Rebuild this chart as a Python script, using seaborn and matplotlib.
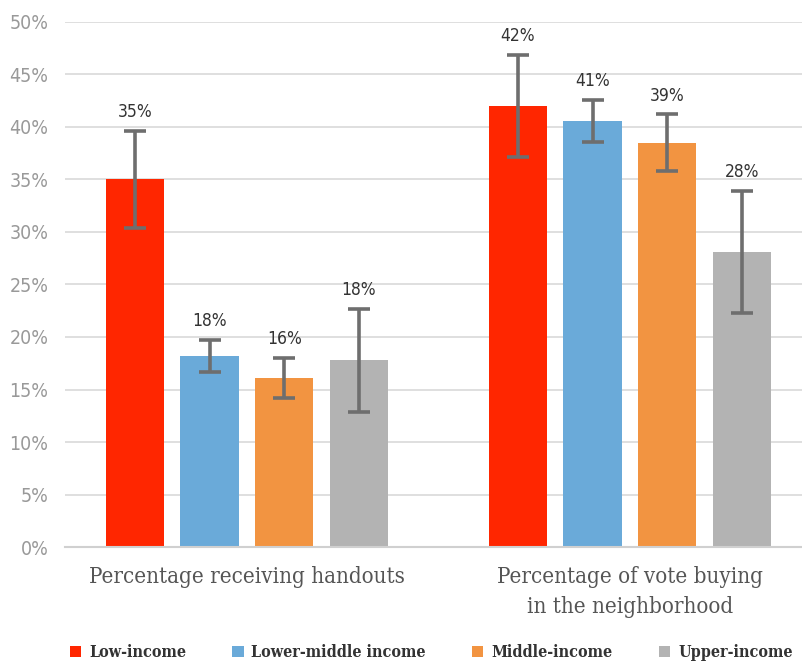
import matplotlib
matplotlib.use("Agg")
import matplotlib.pyplot as plt
import seaborn as sns
import pandas as pd
import numpy as np
from matplotlib.patches import Patch

categories = ["Percentage receiving handouts", "Percentage of vote buying\nin the neighborhood"]
groups = ["Low-income", "Lower-middle income", "Middle-income", "Upper-income"]
handouts = [35.0, 18.2, 16.1, 17.8]
handouts_err = [4.6, 1.5, 1.9, 4.9]
vote_buying = [42.0, 40.6, 38.5, 28.1]
vote_buying_err = [4.9, 2.0, 2.7, 5.85]
labels_handouts = ["35%", "18%", "16%", "18%"]
labels_vote = ["42%", "41%", "39%", "28%"]
yticks = [0, 5, 10, 15, 20, 25, 30, 35, 40, 45, 50]
colors = ["#FF2600", "#6AAAD9", "#F29441", "#B3B3B3"]

rows = []
for g, v, e, l in zip(groups, handouts, handouts_err, labels_handouts):
    rows.append(dict(category=categories[0], group=g, value=v, err=e, label=l))
for g, v, e, l in zip(groups, vote_buying, vote_buying_err, labels_vote):
    rows.append(dict(category=categories[1], group=g, value=v, err=e, label=l))
df = pd.DataFrame(rows)

sns.set_theme(style="white")
fig = plt.figure(figsize=(8.03, 6.62), dpi=100)
ax = fig.add_axes([0.081, 0.1737, 0.919, 0.7931])

sns.barplot(data=df, x="category", y="value", hue="group", hue_order=groups,
            order=categories, palette=colors, width=0.78, gap=0.22,
            errorbar=None, ax=ax, legend=True, saturation=1, linewidth=0)

for gi, g in enumerate(groups):
    cont = ax.containers[gi]
    for ci, bar in enumerate(cont):
        sub = df[(df.group == g) & (df.category == categories[ci])].iloc[0]
        xc = bar.get_x() + bar.get_width() / 2
        ax.errorbar(xc, sub.value, yerr=sub.err, fmt="none", ecolor="#6E6E6E",
                    elinewidth=2.6, capsize=8, capthick=2.6, zorder=5)
        ax.annotate(sub.label, (xc, sub.value + sub.err), xytext=(0, 7),
                    textcoords="offset points", ha="center", va="bottom",
                    fontsize=12.5, color="#333333", family="DejaVu Sans",
                    fontstretch="condensed")

ax.set_ylim(0, 50)
ax.set_xlim(-0.475, 1.452)
ax.set_yticks(yticks)
ax.set_yticklabels([f"{t}%" for t in yticks], color="#999999", fontsize=14,
                   family="DejaVu Sans", fontstretch="condensed")
ax.tick_params(axis="y", length=0, pad=12)
ax.tick_params(axis="x", length=0, pad=14)
for lab in ax.get_xticklabels():
    lab.set_fontfamily("DejaVu Serif")
    lab.set_fontstretch("condensed")
    lab.set_fontsize(16)
    lab.set_color("#555555")
    lab.set_linespacing(1.45)
ax.yaxis.grid(True, color="#D9D9D9", linewidth=1.2)
ax.set_axisbelow(True)
for s in ["top", "right", "left"]:
    ax.spines[s].set_visible(False)
ax.spines["bottom"].set_color("#D0D0D0")
ax.spines["bottom"].set_linewidth(1.5)
ax.set_xlabel("")
ax.set_ylabel("")

ax.get_legend().remove()
h2 = [Patch(facecolor=c, edgecolor="none") for c in colors]
leg = fig.legend(h2, groups, loc="lower center", bbox_to_anchor=(0.537, -0.02),
                 ncol=4, frameon=False, handlelength=0.7, handleheight=0.7,
                 handletextpad=0.5, columnspacing=2.9,
                 prop=dict(family="DejaVu Serif", stretch="condensed", weight="bold", size=11.5))
for t in leg.get_texts():
    t.set_color("#333333")

fig.savefig("out.png", dpi=100)
